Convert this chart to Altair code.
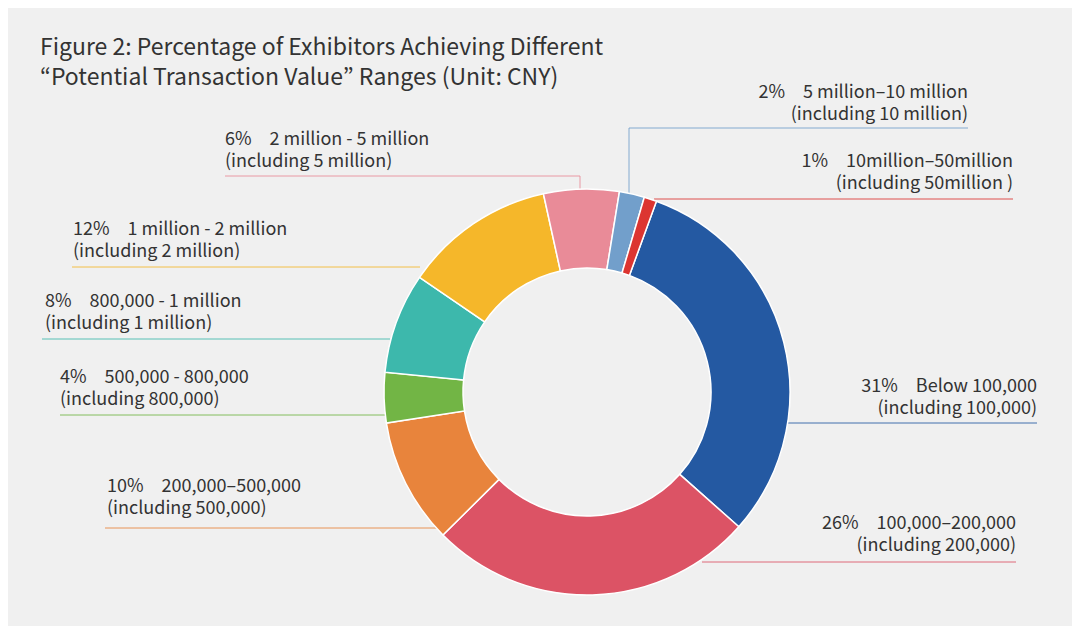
import math
import altair as alt
import pandas as pd

# ---- data ----
categories = [
    "Below 100,000",
    "100,000–200,000",
    "200,000–500,000",
    "500,000 - 800,000",
    "800,000 - 1 million",
    "1 million - 2 million",
    "2 million - 5 million",
    "5 million–10 million",
    "10million–50million",
]
notes = [
    "(including 100,000)",
    "(including 200,000)",
    "(including 500,000)",
    "(including 800,000)",
    "(including 1 million)",
    "(including 2 million)",
    "(including 5 million)",
    "(including 10 million)",
    "(including 50million )",
]
percents = [31, 26, 10, 4, 8, 12, 6, 2, 1]
colors = ["#2459a2", "#dc5365", "#e8843c", "#72b545", "#3db8ac",
          "#f5b72a", "#e98b98", "#729fcb", "#dc3531"]

title_lines = [
    "Figure 2: Percentage of Exhibitors Achieving Different",
    "“Potential Transaction Value” Ranges (Unit: CNY)",
]

# ---- layout (page pixel positions of annotations) ----
OFF = 8
CX, CY, R_OUT, R_IN = 587, 392, 203, 124
START = math.radians(20)
label_x = [1037, 1016, 107, 60, 45, 73, 225, 968, 1013]
label_y = [392, 529, 492, 383, 307, 235, 145, 98, 167]
label_align = ["right", "right", "left", "left", "left", "left", "left", "right", "right"]
line_x1 = [788, 702, 105, 60, 42, 72, 225, 629, 654]
line_x2 = [1037, 1016, 441, 385, 390, 420, 580, 968, 1013]
line_y = [423, 562, 528, 415, 339, 267, 176, 128, 199]
vert_idx = [6, 7]
vert_x = [580, 629]
vert_y1 = [176, 128]
vert_y2 = [189, 194]

FONT = "Noto Sans CJK KR"

df = pd.DataFrame({
    "category": categories,
    "pct": percents,
    "order": list(range(len(categories))),
    "label": [f"{p}%\u2003{c}\n{n}" for p, c, n in zip(percents, categories, notes)],
    "lx": [v - OFF for v in label_x],
    "ly": [v - OFF for v in label_y],
    "align": label_align,
    "x1": [v - OFF for v in line_x1],
    "x2": [v - OFF for v in line_x2],
    "yl": [v - OFF for v in line_y],
})

vdf = pd.DataFrame({
    "category": [categories[i] for i in vert_idx],
    "vx": [v - OFF for v in vert_x],
    "vy1": [v - OFF for v in vert_y1],
    "vy2": [v - OFF for v in vert_y2],
})

tdf = pd.DataFrame({"t": ["\n".join(title_lines)], "tx": [40 - OFF], "ty": [55 - OFF]})

color_scale = alt.Scale(domain=categories, range=colors)

arc = alt.Chart(df).mark_arc(
    innerRadius=R_IN, outerRadius=R_OUT, stroke="white", strokeWidth=1.5
).encode(
    theta=alt.Theta("pct:Q", stack=True,
                    scale=alt.Scale(domain=[0, 100], range=[START, START + 2 * math.pi])),
    color=alt.Color("category:N", scale=color_scale, legend=None),
    order=alt.Order("order:Q"),
    x=alt.value(CX - OFF),
    y=alt.value(CY - OFF),
)

hlines = alt.Chart(df).mark_rule(strokeWidth=1, opacity=0.85).encode(
    x=alt.X("x1:Q", scale=None, axis=None),
    x2="x2:Q",
    y=alt.Y("yl:Q", scale=None, axis=None),
    color=alt.Color("category:N", scale=color_scale, legend=None),
)

vlines = alt.Chart(vdf).mark_rule(strokeWidth=1, opacity=0.85).encode(
    x=alt.X("vx:Q", scale=None, axis=None),
    y=alt.Y("vy1:Q", scale=None, axis=None),
    y2="vy2:Q",
    color=alt.Color("category:N", scale=color_scale, legend=None),
)

def label_layer(al):
    return alt.Chart(df).transform_filter(alt.datum.align == al).mark_text(
        align=al, baseline="alphabetic", lineBreak="\n", lineHeight=22,
        font=FONT, fontSize=18, color="#333333"
    ).encode(
        x=alt.X("lx:Q", scale=None, axis=None),
        y=alt.Y("ly:Q", scale=None, axis=None),
        text="label:N",
    )

title = alt.Chart(tdf).mark_text(
    align="left", baseline="alphabetic", lineBreak="\n", lineHeight=30,
    font=FONT, fontSize=23, color="#333333"
).encode(
    x=alt.X("tx:Q", scale=None, axis=None),
    y=alt.Y("ty:Q", scale=None, axis=None),
    text="t:N",
)

chart = alt.layer(
    hlines, vlines, arc, label_layer("left"), label_layer("right"), title
).properties(
    width=1064, height=618, padding=0, background="#f0f0f0"
).configure_view(stroke=None)

chart.save("out.html", embed_options={"renderer": "svg", "actions": False})
